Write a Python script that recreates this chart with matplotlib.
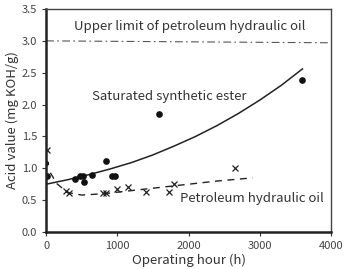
import matplotlib
matplotlib.use("Agg")
import matplotlib.pyplot as plt

plt.rcParams["font.family"] = ["Noto Sans CJK JP", "DejaVu Sans"]

# saturated synthetic ester (measured)
ester_h = [10, 407, 477, 524, 538, 646, 838, 931, 968, 1586, 3598]
ester_av = [0.88, 0.83, 0.88, 0.88, 0.78, 0.89, 1.11, 0.88, 0.88, 1.86, 2.39]
# partly hidden point on the axis
edge_h = [0]
edge_av = [1.08]

# petroleum hydraulic oil (measured)
petro_h = [10, 280, 320, 805, 840, 1000, 1146, 1403, 1731, 1797, 2653]
petro_av = [1.29, 0.64, 0.61, 0.62, 0.62, 0.67, 0.71, 0.63, 0.63, 0.75, 1.01]

# trend curves
ester_fit_h = [0, 300, 600, 900, 1200, 1500, 1800, 2100, 2400, 2700, 3000, 3300, 3600]
ester_fit_av = [0.75, 0.82, 0.90, 0.99, 1.09, 1.21, 1.35, 1.50, 1.67, 1.86, 2.07, 2.30, 2.56]
petro_fit_h = [60, 150, 300, 500, 800, 1200, 1600, 2000, 2400, 2900]
petro_fit_av = [0.93, 0.76, 0.62, 0.58, 0.60, 0.65, 0.70, 0.75, 0.80, 0.85]

limit_h = [0, 4000]
limit_av = [3.0, 2.97]

txt = "#333333"
fig = plt.figure(figsize=(3.44, 2.69), dpi=100)
ax = fig.add_axes([0.134, 0.1375, 0.828, 0.829])

ax.plot(ester_fit_h, ester_fit_av, color="#222222", lw=1.1)
ax.plot(petro_fit_h, petro_fit_av, color="#222222", lw=1.0, ls=(0, (5, 4)))
ax.plot(limit_h, limit_av, color="#555555", lw=0.8, ls=(0, (7, 3, 1.5, 3)))
ax.plot(ester_h, ester_av, "o", color="#111111", ms=3.8, ls="none")
ax.plot(edge_h, edge_av, "o", color="#111111", ms=2.8, ls="none")
ax.plot(petro_h, petro_av, "x", color="#222222", ms=5, mew=0.9, ls="none")

ax.text(2021, 3.23, "Upper limit of petroleum hydraulic oil", ha="center", va="center",
        fontsize=9.5, color=txt)
ax.text(1726, 2.13, "Saturated synthetic ester", ha="center", va="center",
        fontsize=9.5, color=txt)
ax.text(2884, 0.53, "Petroleum hydraulic oil", ha="center", va="center",
        fontsize=9.5, color=txt)

ax.set_xlim(0, 4000)
ax.set_ylim(0, 3.5)
ax.set_xticks([0, 1000, 2000, 3000, 4000])
ax.set_yticks([0.0, 0.5, 1.0, 1.5, 2.0, 2.5, 3.0, 3.5])
ax.set_yticklabels([f"{v:.1f}" for v in ax.get_yticks()])
ax.tick_params(labelsize=8, labelcolor="#444444", length=3, width=0.8, color="#333333")
ax.set_xlabel("Operating hour (h)", fontsize=9.5, color=txt, labelpad=2)
ax.set_ylabel("Acid value (mg KOH/g)", fontsize=9.5, color=txt, labelpad=2)

for side in ["left", "bottom"]:
    ax.spines[side].set_linewidth(1.8)
    ax.spines[side].set_color("#222222")
for side in ["top", "right"]:
    ax.spines[side].set_linewidth(1.0)
    ax.spines[side].set_color("#444444")

fig.savefig("out.png", dpi=100)
